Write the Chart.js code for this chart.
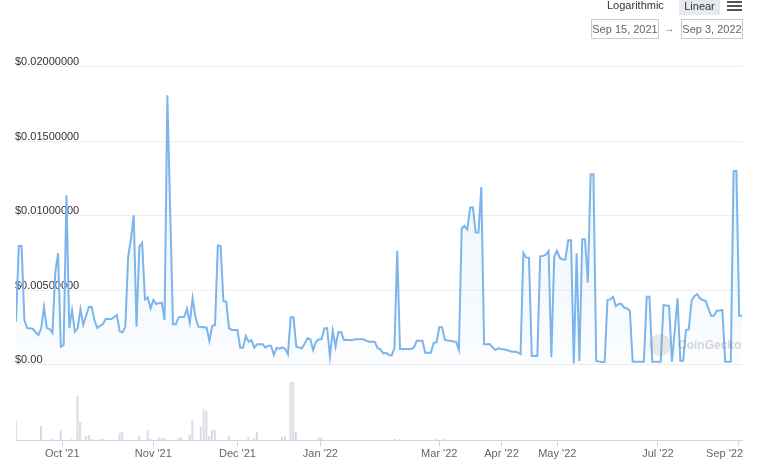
<!DOCTYPE html>
<html>
<head>
<meta charset="utf-8">
<script src="https://cdn.jsdelivr.net/npm/chart.js@4.4.1/dist/chart.umd.min.js"></script>
<style>
    html, body { margin: 0; padding: 0; background: #fff; }
    body { width: 765px; height: 467px; position: relative; overflow: hidden; font-family: "Liberation Sans", Arial, sans-serif; }
    #chartPrice { position: absolute; left: 0; top: 0; }
    .txt { position: absolute; font-size: 11px; line-height: 15px; color: #333; white-space: nowrap; }
    .btn { background: #e6e9ee; text-align: center; }
    .bar { position: absolute; left: 727px; width: 15px; height: 2px; background: #555; }
    .date { position: absolute; top: 19px; height: 18px; border: 1px solid #cccccc; color: #666; font-size: 11px; line-height: 18px; text-align: center; }
    .mark { position: absolute; color: rgba(110, 110, 110, 0.28); font-size: 12px; font-weight: bold; }
    .logo { position: absolute; left: 649px; top: 334px; width: 22px; height: 22px; border-radius: 50%; background: rgba(150, 150, 150, 0.22); }
</style>
</head>
<body>
<canvas id="chartPrice" width="765" height="467"></canvas>

<div class="txt" style="left:607px; top:-2px;">Logarithmic</div>
<div class="txt btn" style="left:679px; top:0; width:41px; height:15px; line-height:13px;">Linear</div>
<div class="bar" style="top:1px;"></div>
<div class="bar" style="top:5px;"></div>
<div class="bar" style="top:9px;"></div>
<div class="date" style="left:591px; width:66px;">Sep 15, 2021</div>
<div class="txt" style="left:664px; top:21px; color:#777;">&rarr;</div>
<div class="date" style="left:681px; width:60px;">Sep 3, 2022</div>

<div class="logo"></div>
<div class="mark" style="left:678px; top:338px;">CoinGecko</div>

<script>
// daily-ish price samples (USD), evenly spaced like the ordinal axis of the original
const prices = [
    0.00290, 0.00798, 0.00798, 0.00302, 0.00248, 0.00246, 0.00243, 0.00220, 0.00201, 0.00248,
    0.00389, 0.00248, 0.00241, 0.00214, 0.00617, 0.00751, 0.00123, 0.00134, 0.01139, 0.00248,
    0.00369, 0.00223, 0.00248, 0.00375, 0.00268, 0.00330, 0.00389, 0.00391, 0.00300, 0.00248,
    0.00263, 0.00275, 0.00308, 0.00308, 0.00308, 0.00322, 0.00335, 0.00225, 0.00219, 0.00257,
    0.00726, 0.00844, 0.01005, 0.00257, 0.00793, 0.00820, 0.00440, 0.00454, 0.00380, 0.00436,
    0.00409, 0.00415, 0.00418, 0.00302, 0.01810, 0.01040, 0.00273, 0.00273, 0.00320, 0.00322,
    0.00324, 0.00377, 0.00283, 0.00447, 0.00324, 0.00257, 0.00255, 0.00253, 0.00250, 0.00161,
    0.00263, 0.00268, 0.00802, 0.00798, 0.00429, 0.00424, 0.00246, 0.00235, 0.00235, 0.00235,
    0.00116, 0.00116, 0.00194, 0.00156, 0.00168, 0.00116, 0.00139, 0.00139, 0.00139, 0.00116,
    0.00129, 0.00129, 0.00067, 0.00116, 0.00109, 0.00119, 0.00109, 0.00072, 0.00320, 0.00320,
    0.00123, 0.00117, 0.00112, 0.00145, 0.00179, 0.00172, 0.00101, 0.00156, 0.00172, 0.00172,
    0.00246, 0.00246, 0.00056, 0.00230, 0.00123, 0.00221, 0.00220, 0.00168, 0.00168, 0.00168,
    0.00168, 0.00172, 0.00172, 0.00172, 0.00172, 0.00162, 0.00156, 0.00156, 0.00156, 0.00112,
    0.00105, 0.00078, 0.00082, 0.00067, 0.00065, 0.00112, 0.00766, 0.00107, 0.00107, 0.00107,
    0.00107, 0.00107, 0.00119, 0.00163, 0.00163, 0.00163, 0.00082, 0.00082, 0.00082, 0.00149,
    0.00152, 0.00253, 0.00253, 0.00168, 0.00165, 0.00163, 0.00158, 0.00156, 0.00101, 0.00916,
    0.00934, 0.00909, 0.01057, 0.01057, 0.00889, 0.00889, 0.01195, 0.00139, 0.00140, 0.00141,
    0.00119, 0.00101, 0.00112, 0.00108, 0.00105, 0.00101, 0.00095, 0.00089, 0.00089, 0.00085,
    0.00074, 0.00753, 0.00722, 0.00719, 0.00060, 0.00060, 0.00060, 0.00731, 0.00732, 0.00740,
    0.00764, 0.00052, 0.00726, 0.00766, 0.00720, 0.00708, 0.00708, 0.00838, 0.00838, 0.00011,
    0.00749, 0.00027, 0.00844, 0.00844, 0.00552, 0.01280, 0.01280, 0.00027, 0.00023, 0.00020,
    0.00020, 0.00436, 0.00440, 0.00458, 0.00395, 0.00409, 0.00409, 0.00384, 0.00380, 0.00364,
    0.00022, 0.00022, 0.00022, 0.00022, 0.00022, 0.00458, 0.00458, 0.00022, 0.00022, 0.00022,
    0.00022, 0.00402, 0.00400, 0.00397, 0.00022, 0.00230, 0.00447, 0.00029, 0.00029, 0.00235,
    0.00239, 0.00431, 0.00462, 0.00476, 0.00447, 0.00436, 0.00431, 0.00380, 0.00330, 0.00330,
    0.00364, 0.00366, 0.00369, 0.00022, 0.00022, 0.00022, 0.01302, 0.01302, 0.00330, 0.00330
];

// traded volume, relative units, same sampling as prices
const volumes = [
    20, 0, 0, 0, 0, 0, 0, 0, 0, 14, 0, 0, 0, 1, 0, 0, 10, 0, 0, 0,
    1, 0, 44, 18, 0, 4, 5, 1, 0, 0, 1, 1, 0, 0, 0, 0, 0, 7, 8, 0,
    0, 0, 0, 0, 4, 0, 0, 10, 1, 0, 0, 3, 2, 2, 0, 0, 0, 0, 2, 3,
    0, 0, 5, 20, 0, 0, 13, 31, 29, 4, 10, 10, 0, 0, 0, 0, 4, 0, 0, 0,
    0, 0, 0, 3, 0, 2, 8, 0, 0, 0, 0, 0, 0, 0, 0, 3, 4, 0, 58, 58,
    8, 0, 0, 0, 0, 0, 0, 0, 3, 2, 0, 0, 0, 0, 0, 0, 0, 0, 0, 0,
    0, 0, 0, 0, 0, 0, 0, 0, 0, 0, 0, 0, 0, 0, 0, 1, 0, 1, 0, 0,
    0, 0, 0, 0, 0, 0, 0, 0, 0, 0, 1, 0, 0, 1, 0, 0, 0, 0, 0, 0,
    0, 0, 0, 0, 0, 0, 0, 0, 0, 0, 0, 0, 0, 0, 0, 0, 0, 0, 0, 0,
    0, 0, 0, 0, 0, 0, 0, 0, 0, 0, 0, 0, 0, 0, 0, 0, 0, 0, 0, 0,
    0, 0, 0, 0, 0, 0, 0, 0, 0, 0, 0, 0, 0, 0, 0, 0, 0, 0, 0, 0,
    0, 0, 0, 0, 0, 0, 0, 0, 0, 0, 0, 0, 0, 0, 0, 0, 0, 0, 0, 0,
    0, 0, 0, 0, 0, 0, 0, 0, 0, 0, 0, 0, 0, 0, 0, 0, 0, 0, 0, 0
];

// month ticks: position on the sample index axis + label
const monthTickPos = [16.5, 49, 79, 108.6, 151, 173.2, 193.1, 229, 257.7];
const monthLabels = ["Oct '21", "Nov '21", "Dec '21", "Jan '22", "Mar '22", "Apr '22", "May '22", "Jul '22", "Sep '22"];

const yTickValues = [0, 0.005, 0.01, 0.015, 0.02];
const yTickLabels = ['$0.00', '$0.00500000', '$0.01000000', '$0.01500000', '$0.02000000'];

const FONT = '"Liberation Sans", Arial, sans-serif';

renderChart();

function priceFill(c) {
    const chart = c.chart;
    const area = chart.chartArea;
    if (!area) return 'rgba(124, 181, 236, 0.08)';
    const zero = chart.scales.y.getPixelForValue(0);
    const g = chart.ctx.createLinearGradient(0, area.top, 0, zero);
    g.addColorStop(0, 'rgba(124, 181, 236, 0.20)');
    g.addColorStop(1, 'rgba(124, 181, 236, 0.03)');
    return g;
}

function renderChart() {
    const last = monthLabels.length - 1;
    new Chart(document.getElementById('chartPrice'), {
        type: 'line',
        data: {
            datasets: [
                {
                    type: 'line',
                    label: 'Price',
                    data: prices.map((v, i) => ({ x: i, y: v })),
                    yAxisID: 'y',
                    borderColor: '#7cb5ec',
                    borderWidth: 2,
                    pointRadius: 0,
                    tension: 0,
                    fill: 'origin',
                    backgroundColor: priceFill,
                    order: 1
                },
                {
                    type: 'bar',
                    label: 'Volume',
                    data: volumes.map((v, i) => ({ x: i, y: v })),
                    yAxisID: 'yVol',
                    backgroundColor: '#e2e4ec',
                    borderColor: '#cfd2dd',
                    borderWidth: { left: 1, right: 0, top: 0, bottom: 0 },
                    barThickness: 2,
                    order: 2
                }
            ]
        },
        options: {
            responsive: false,
            animation: false,
            layout: { padding: { left: 16, right: 23, top: 55, bottom: 0 } },
            plugins: {
                legend: { display: false },
                tooltip: { enabled: false }
            },
            scales: {
                x: {
                    type: 'linear',
                    min: 0,
                    max: prices.length - 1,
                    offset: false,
                    afterBuildTicks: s => { s.ticks = monthTickPos.map(v => ({ value: v })); },
                    afterFit: s => {
                        s.height = 27;
                        s.paddingLeft = 0;
                        s.paddingRight = 0;
                    },
                    grid: { offset: false, drawOnChartArea: false, drawTicks: true, tickLength: 6, color: '#ccd6eb', tickColor: '#ccd6eb' },
                    border: { color: '#ccd6eb' },
                    ticks: {
                        autoSkip: false,
                        maxRotation: 0,
                        padding: 1,
                        color: '#666',
                        font: { family: FONT, size: 11 },
                        // last label is kept inside the plot edge, as in the original
                        callback: (v, i) => (i === last ? monthLabels[i] + '\u2002\u2002\u2002\u2002\u2002' : monthLabels[i])
                    }
                },
                y: {
                    position: 'left',
                    min: -0.005034,
                    max: 0.020805,
                    afterBuildTicks: s => { s.ticks = yTickValues.map(v => ({ value: v })); },
                    afterFit: s => { s.width = 0; },
                    grid: { color: '#eceef3', drawTicks: false },
                    border: { display: false },
                    ticks: {
                        mirror: true,
                        padding: -1,
                        labelOffset: -5,
                        color: '#333',
                        font: { family: FONT, size: 11 },
                        callback: (v, i) => yTickLabels[i]
                    }
                },
                yVol: {
                    display: false,
                    min: 0,
                    max: 385
                }
            }
        }
    });
}
</script>
</body>
</html>
